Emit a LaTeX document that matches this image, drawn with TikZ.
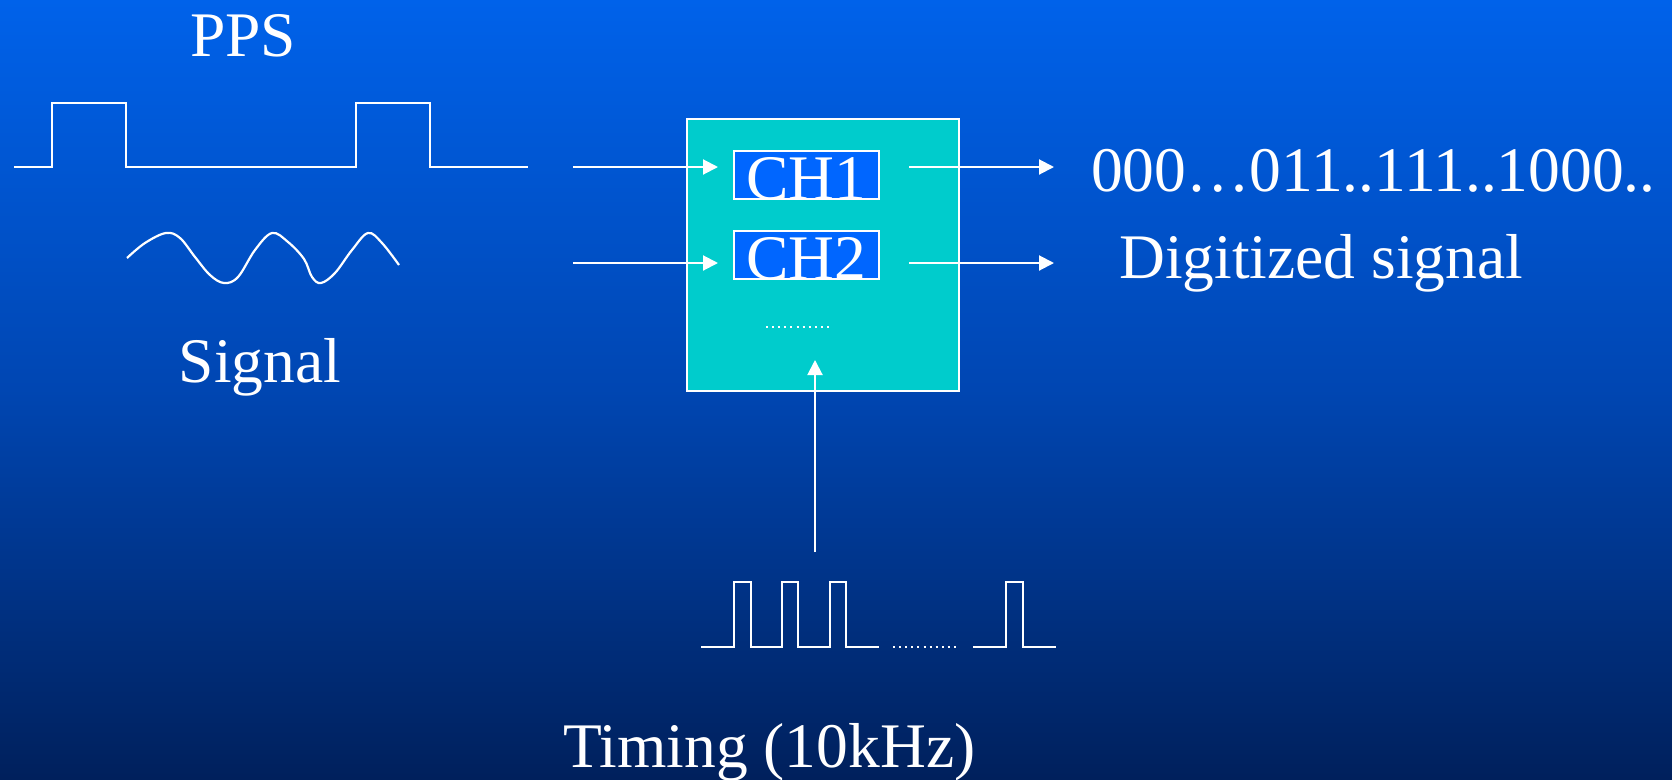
\documentclass[tikz,border=0pt]{standalone}
\usepackage{fontspec}
\setmainfont{Liberation Serif}
\usetikzlibrary{arrows.meta}
\definecolor{bgtop}{RGB}{0,98,234}
\definecolor{bgmid}{RGB}{0,70,178}
\definecolor{bgbot}{RGB}{0,32,92}
\definecolor{adcfill}{RGB}{0,204,204}
\definecolor{chblue}{RGB}{0,102,255}
\begin{document}
\begin{tikzpicture}[x=1pt,y=-1pt,
  wave/.style={white,line width=2.6pt},
  conn/.style={white,line width=2pt,-{Triangle[length=15pt,width=15pt]}},
  lbl/.style={text=white,font=\fontsize{63.5}{70}\selectfont,inner sep=0pt},
  chbox/.style={draw=white,line width=2pt,fill=chblue,minimum width=145pt,minimum height=48pt,inner sep=0pt},
  dotline/.style={white,line width=2pt,dash pattern=on 2pt off 4.1pt}
]
\fill[top color=bgtop,bottom color=bgbot,middle color=bgmid] (0,0) rectangle (1672,779);
\useasboundingbox (0,0) rectangle (1672,779);

% labels
\node[lbl,anchor=base] (pps) at (243,56) {PPS};
\node[lbl,anchor=base] (sig) at (260,382) {Signal};
\node[lbl,anchor=base west] (tim) at (563,767) {Timing (10kHz)};
\node[lbl,anchor=base west] (bits) at (1091,191) {000…011..111..1000..};
\node[lbl,anchor=base west] (dig) at (1119,278) {Digitized signal};

% PPS waveform
\draw[wave] (14,167) -- (52,167) -- (52,103) -- (126,103) -- (126,167) -- (356,167)
  -- (356,103) -- (430,103) -- (430,167) -- (528,167);

% signal waveform
\draw[wave,line width=2.2pt] plot[smooth,tension=0.6] coordinates {(127,258) (145,243) (166,233) (180,238) (195,257) (210,275) (224,283) (238,277) (255,250) (272,233) (288,242) (304,259) (312,277) (321,283) (335,273) (352,250) (368,233) (382,243) (399,265)};

% ADC box
\node[draw=white,line width=2.5pt,fill=adcfill,minimum width=272pt,minimum height=272pt,inner sep=0pt] (adc) at (823,255) {};
\node[chbox] (ch1) at (806.5,175) {};
\node[chbox] (ch2) at (806.5,255) {};
\node[lbl,anchor=base] (ch1t) at ([yshift=1pt]ch1.south) {CH1};
\node[lbl,anchor=base] (ch2t) at ([yshift=1pt]ch2.south) {CH2};
\coordinate (d1) at (766,327);
\coordinate (d2) at (829,327);
\draw[dotline] (d1) -- (d2);

% input / output arrows
\coordinate (in1) at (573,167);
\coordinate (in1t) at (718,167);
\coordinate (in2) at (573,263);
\coordinate (in2t) at (718,263);
\coordinate (out1) at (909,167);
\coordinate (out1t) at (1054,167);
\coordinate (out2) at (909,263);
\coordinate (out2t) at (1054,263);
\draw[conn] (in1) -- (in1t);
\draw[conn] (in2) -- (in2t);
\draw[conn] (out1) -- (out1t);
\draw[conn] (out2) -- (out2t);

% timing arrow
\coordinate (tb) at (815,552);
\coordinate (tt) at (815,360);
\draw[conn] (tb) -- (tt);

% timing waveform
\draw[wave] (701,647) -- (734,647) -- (734,582) -- (751,582) -- (751,647) -- (782,647)
  -- (782,582) -- (798,582) -- (798,647) -- (830,647) -- (830,582) -- (846,582)
  -- (846,647) -- (879,647);
\coordinate (td1) at (893,647);
\coordinate (td2) at (956,647);
\draw[dotline] (td1) -- (td2);
\draw[wave] (973,647) -- (1006,647) -- (1006,582) -- (1023,582) -- (1023,647) -- (1056,647);
\end{tikzpicture}
\end{document}
